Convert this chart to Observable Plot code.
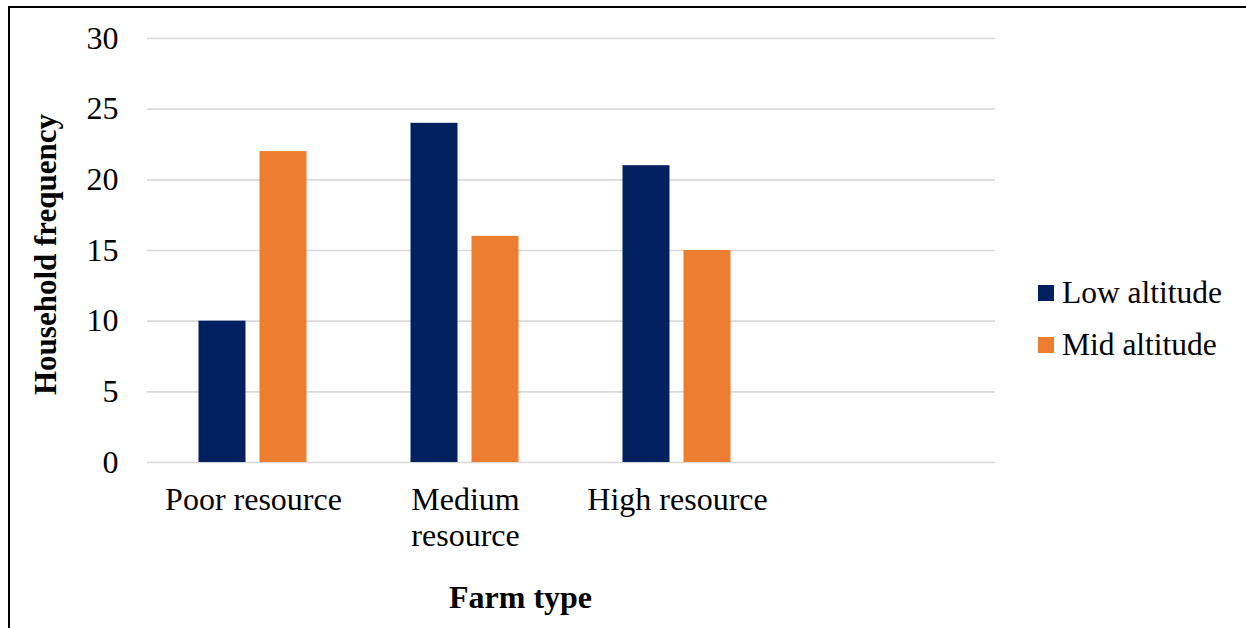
<!DOCTYPE html>
<html>
<head>
<meta charset="utf-8">
<script src="https://cdn.jsdelivr.net/npm/d3@7"></script>
<script src="https://cdn.jsdelivr.net/npm/@observablehq/plot@0.6"></script>
<style>
  html, body { margin: 0; padding: 0; background: #fff; }
  #wrap { position: relative; width: 1246px; height: 628px; overflow: hidden; background: #fff; }
  #frame {
    position: absolute; left: 8px; top: 6px; right: -10px; bottom: -10px;
    border-left: 2px solid #000; border-top: 2px solid #000; pointer-events: none;
  }
  #legend {
    position: absolute; left: 1038px; top: 267px;
    font-family: "Liberation Serif", "Times New Roman", serif; font-size: 31.5px; color: #000;
  }
  #legend .row { display: flex; align-items: center; height: 52px; }
  #legend .sw { width: 16px; height: 16px; margin-right: 8px; flex: none; }
</style>
</head>
<body>
<div id="wrap"><div id="frame"></div></div>
<script>
// Household counts by farm type and altitude zone
const categories = ["Poor resource", "Medium resource", "High resource"];
const tickLabels = ["Poor resource", "Medium\nresource", "High resource"];
const seriesNames = ["Low altitude", "Mid altitude"];
const lowAltitude = [10, 24, 21];
const midAltitude = [22, 16, 15];
const yTicks = [0, 5, 10, 15, 20, 25, 30];
const seriesColors = ["#002060", "#ED7D31"];

const rows = categories.map((c, i) => ({farmType: c, low: lowAltitude[i], mid: midAltitude[i]}));

const serif = '"Liberation Serif", "Times New Roman", serif';

const chart = Plot.plot({
  width: 1246,
  height: 628,
  marginLeft: 147,
  marginRight: 251,
  marginTop: 38,
  marginBottom: 166,
  style: {fontFamily: serif, fontSize: "32px", background: "transparent", color: "#000", overflow: "visible"},
  x: {domain: categories, range: [147, 783], padding: 0},
  y: {domain: [0, 30]},
  color: {domain: seriesNames, range: seriesColors},
  marks: [
    Plot.gridY(yTicks, {stroke: "#d9d9d9", strokeOpacity: 1, strokeWidth: 1.6}),
    Plot.barY(rows, {x: "farmType", y: "low", fill: () => seriesNames[0], dx: -31, insetLeft: 82.5, insetRight: 82.5}),
    Plot.barY(rows, {x: "farmType", y: "mid", fill: () => seriesNames[1], dx: 30, insetLeft: 82.5, insetRight: 82.5}),
    Plot.axisY({ticks: yTicks, tickSize: 0, tickPadding: 29, label: null}),
    Plot.axisX({tickSize: 0, tickPadding: 21, label: null, lineHeight: 1.15,
      tickFormat: d => tickLabels[categories.indexOf(d)]}),
    Plot.text(["Household frequency"], {text: d => d, frameAnchor: "left", rotate: -90, dx: -114, dy: 4,
      lineAnchor: "top", textAnchor: "middle", fontWeight: "bold", fontSize: 31}),
    Plot.text(["Farm type"], {text: d => d, frameAnchor: "bottom", dx: -51, dy: 123,
      lineAnchor: "top", textAnchor: "middle", fontWeight: "bold"})
  ]
});

const wrap = document.getElementById("wrap");
chart.style.position = "absolute";
chart.style.left = "0";
chart.style.top = "0";
wrap.insertBefore(chart, wrap.firstChild);

// Legend built from the chart's color scale
const color = chart.scale("color");
const legend = document.createElement("div");
legend.id = "legend";
color.domain.forEach((name, i) => {
  const row = document.createElement("div");
  row.className = "row";
  const sw = document.createElement("span");
  sw.className = "sw";
  sw.style.background = color.range[i];
  const label = document.createElement("span");
  label.textContent = name;
  row.appendChild(sw);
  row.appendChild(label);
  legend.appendChild(row);
});
wrap.appendChild(legend);
</script>
</body>
</html>
